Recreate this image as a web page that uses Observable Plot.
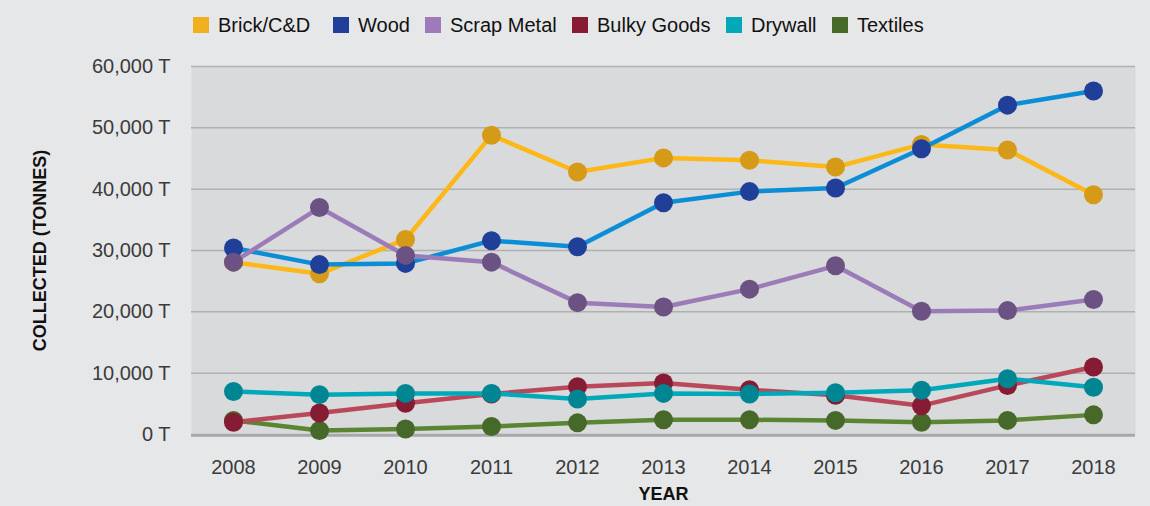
<!DOCTYPE html>
<html>
<head>
<meta charset="utf-8">
<script src="https://cdn.jsdelivr.net/npm/d3@7"></script>
<script src="https://cdn.jsdelivr.net/npm/@observablehq/plot@0.6"></script>
<style>
  html, body { margin: 0; padding: 0; background: #e6e7e8; }
  body { width: 1150px; height: 506px; overflow: hidden; font-family: "Liberation Sans", Arial, sans-serif; }
  #legend { position: relative; height: 48px; }
  .item { position: absolute; top: 14px; height: 22px; line-height: 22px; display: flex; align-items: center; font-size: 20px; color: #111; white-space: nowrap; }
  .sw { width: 16px; height: 16px; margin-right: 9px; flex: none; }
  #chart svg { display: block; }
</style>
</head>
<body>
<div id="legend"></div>
<div id="chart"></div>
<script>
const years = [2008, 2009, 2010, 2011, 2012, 2013, 2014, 2015, 2016, 2017, 2018];
const seriesNames = ["Brick/C&D", "Wood", "Scrap Metal", "Bulky Goods", "Drywall", "Textiles"];
const brick = [28100, 26200, 31800, 48800, 42800, 45100, 44700, 43600, 47300, 46400, 39100];
const wood = [30400, 27700, 27900, 31600, 30600, 37800, 39600, 40200, 46600, 53700, 56000];
const scrapMetal = [28100, 37000, 29200, 28100, 21500, 20800, 23700, 27500, 20100, 20200, 22000];
const bulkyGoods = [2000, 3500, 5100, 6600, 7800, 8400, 7300, 6400, 4700, 8000, 11000];
const drywall = [7000, 6500, 6700, 6700, 5800, 6700, 6600, 6800, 7200, 9100, 7700];
const textiles = [2300, 650, 900, 1300, 1900, 2400, 2400, 2300, 2000, 2300, 3200];
const yTicks = [0, 10000, 20000, 30000, 40000, 50000, 60000];

const lineColors = {"Brick/C&D": "#fdb817", "Wood": "#0b8ed6", "Scrap Metal": "#9b7bb8", "Bulky Goods": "#b9485a", "Drywall": "#00a9b9", "Textiles": "#5b8533"};
const dotColors = {"Brick/C&D": "#d49a18", "Wood": "#1f3f99", "Scrap Metal": "#6b5283", "Bulky Goods": "#861c33", "Drywall": "#008592", "Textiles": "#46692a"};
const legendColors = {"Brick/C&D": "#f1b11f", "Wood": "#1f3f99", "Scrap Metal": "#9e7ab8", "Bulky Goods": "#861c33", "Drywall": "#00a8b8", "Textiles": "#46692a"};
const values = {"Brick/C&D": brick, "Wood": wood, "Scrap Metal": scrapMetal, "Bulky Goods": bulkyGoods, "Drywall": drywall, "Textiles": textiles};

// legend
const legendX = [193, 333, 425, 572, 726, 832];
const legend = document.getElementById("legend");
seriesNames.forEach((s, i) => {
  const it = document.createElement("div");
  it.className = "item";
  it.style.left = legendX[i] + "px";
  it.innerHTML = `<span class="sw" style="background:${legendColors[s]}"></span><span>${s.replace("&", "&amp;")}</span>`;
  legend.appendChild(it);
});

const drawOrder = ["Textiles", "Brick/C&D", "Wood", "Scrap Metal", "Bulky Goods", "Drywall"];
const seriesMarks = [];
for (const s of drawOrder) {
  const rows = years.map((yr, i) => ({year: yr, value: values[s][i]}));
  seriesMarks.push(Plot.line(rows, {x: "year", y: "value", stroke: lineColors[s], strokeWidth: 4.5}));
  seriesMarks.push(Plot.dot(rows, {x: "year", y: "value", r: 9.5, fill: dotColors[s], stroke: "none"}));
}

const fmt = d3.format(",");
const chart = Plot.plot({
  width: 1150,
  height: 458,
  marginLeft: 191,
  marginRight: 15,
  marginTop: 18,
  marginBottom: 72,
  style: {background: "transparent", fontFamily: "Liberation Sans, Arial, sans-serif"},
  x: {type: "point", domain: years, padding: 0.48},
  y: {domain: [0, 60000]},
  marks: [
    Plot.frame({fill: "#d9dadb", stroke: "none"}),
    Plot.gridY(yTicks, {stroke: "#aeb0b2", strokeOpacity: 1, strokeWidth: 1.5}),
    Plot.ruleY([0], {stroke: "#a5a7aa", strokeWidth: 2.5, dy: 1}),
    Plot.axisY(yTicks, {tickSize: 0, tickPadding: 21, fontSize: 20, fill: "#3b3b3b", tickFormat: d => fmt(d) + " T", label: null}),
    Plot.axisX(years, {tickSize: 0, tickPadding: 25, fontSize: 20, fill: "#3b3b3b", tickFormat: d => String(d), label: null}),
    Plot.text(["YEAR"], {frameAnchor: "bottom", dy: 65, fontSize: 18, fontWeight: "bold", fill: "#111", text: d => d}),
    Plot.text(["COLLECTED (TONNES)"], {frameAnchor: "left", textAnchor: "middle", dx: -151, rotate: -90, fontSize: 18, fontWeight: "bold", fill: "#111", text: d => d}),
    ...seriesMarks
  ]
});
document.getElementById("chart").appendChild(chart);
</script>
</body>
</html>
